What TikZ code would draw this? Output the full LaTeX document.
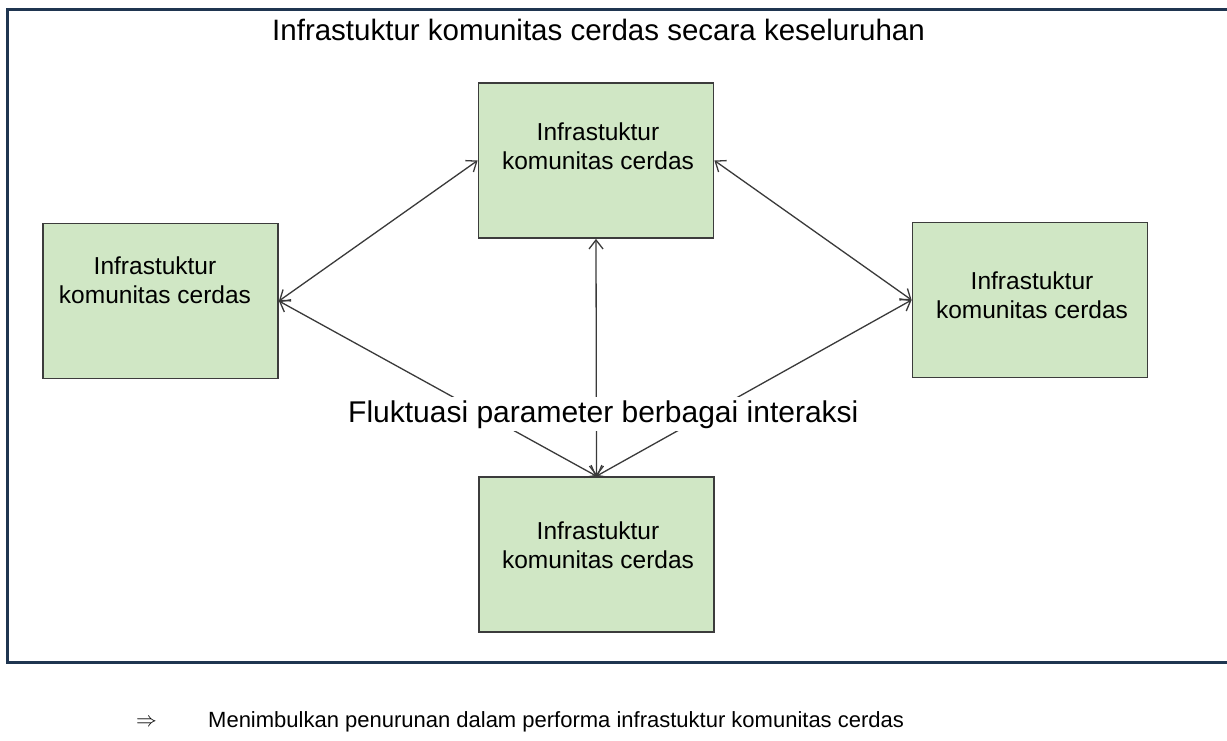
\documentclass[tikz,border=0pt]{standalone}
\usepackage{fontspec}
\setmainfont{Liberation Sans}
\usetikzlibrary{arrows.meta}
\definecolor{frameblue}{HTML}{1F3550}
\definecolor{boxgreen}{HTML}{D0E7C5}
\definecolor{boxedge}{HTML}{3C3C3C}
\definecolor{linkgray}{HTML}{3A3A3A}
\begin{document}
\begin{tikzpicture}[x=1pt,y=-1pt,
  infra/.style={draw=boxedge, line width=1.8pt, fill=boxgreen,
    minimum width=235pt, minimum height=155pt, inner sep=0pt},
  infratext/.style={font=\fontsize{24.5}{29}\selectfont, align=center, text=black},
  link/.style={draw=linkgray, line width=1.3pt,
    {Straight Barb[length=9pt,width=14pt]}-{Straight Barb[length=9pt,width=14pt]}},
]
\useasboundingbox (0,0) rectangle (1227,740);
\fill[white] (0,0) rectangle (1227,740);
% outer frame
\draw[frameblue, line width=3pt] (7,9) rectangle (1234,662);

% the four infrastructure boxes
\node[infra] (top) at (596,160.5) {};
\node[infra] (left) at (160.5,301) {};
\node[infra] (right) at (1030,300) {};
\node[infra] (bottom) at (596.5,554.5) {};

\node[infratext] (toptext) at (598,146) {Infrastuktur\\komunitas cerdas};
\node[infratext] (lefttext) at (155,280) {Infrastuktur\\komunitas cerdas};
\node[infratext] (righttext) at (1032,295) {Infrastuktur\\komunitas cerdas};
\node[infratext] (bottomtext) at (598,545) {Infrastuktur\\komunitas cerdas};

% title
\node[font=\fontsize{29.5}{35}\selectfont, anchor=base west, inner sep=0pt] (title)
  at (272,40) {Infrastuktur komunitas cerdas secara keseluruhan};

% connectors
\draw[link] (left.east) -- (top.west);
\draw[link] (top.east) -- (right.west);
\draw[link] (top.south) -- (bottom.north);
\draw[link] (left.east) -- (bottom.north);
\draw[link] (right.west) -- (bottom.north);

% central label over the connectors
\node[fill=white, font=\fontsize{30}{36}\selectfont, inner sep=3pt, anchor=base west] (fluk)
  at (345,422) {Fluktuasi parameter berbagai interaksi};

% legend
\node[font=\fontsize{20}{24}\selectfont, anchor=base east, inner sep=0pt] (implies)
  at (157,726) {$\Rightarrow$};
\node[font=\fontsize{22}{26}\selectfont, anchor=base west, inner sep=0pt] (legend)
  at (208,727) {Menimbulkan penurunan dalam performa infrastuktur komunitas cerdas};
\end{tikzpicture}
\end{document}
